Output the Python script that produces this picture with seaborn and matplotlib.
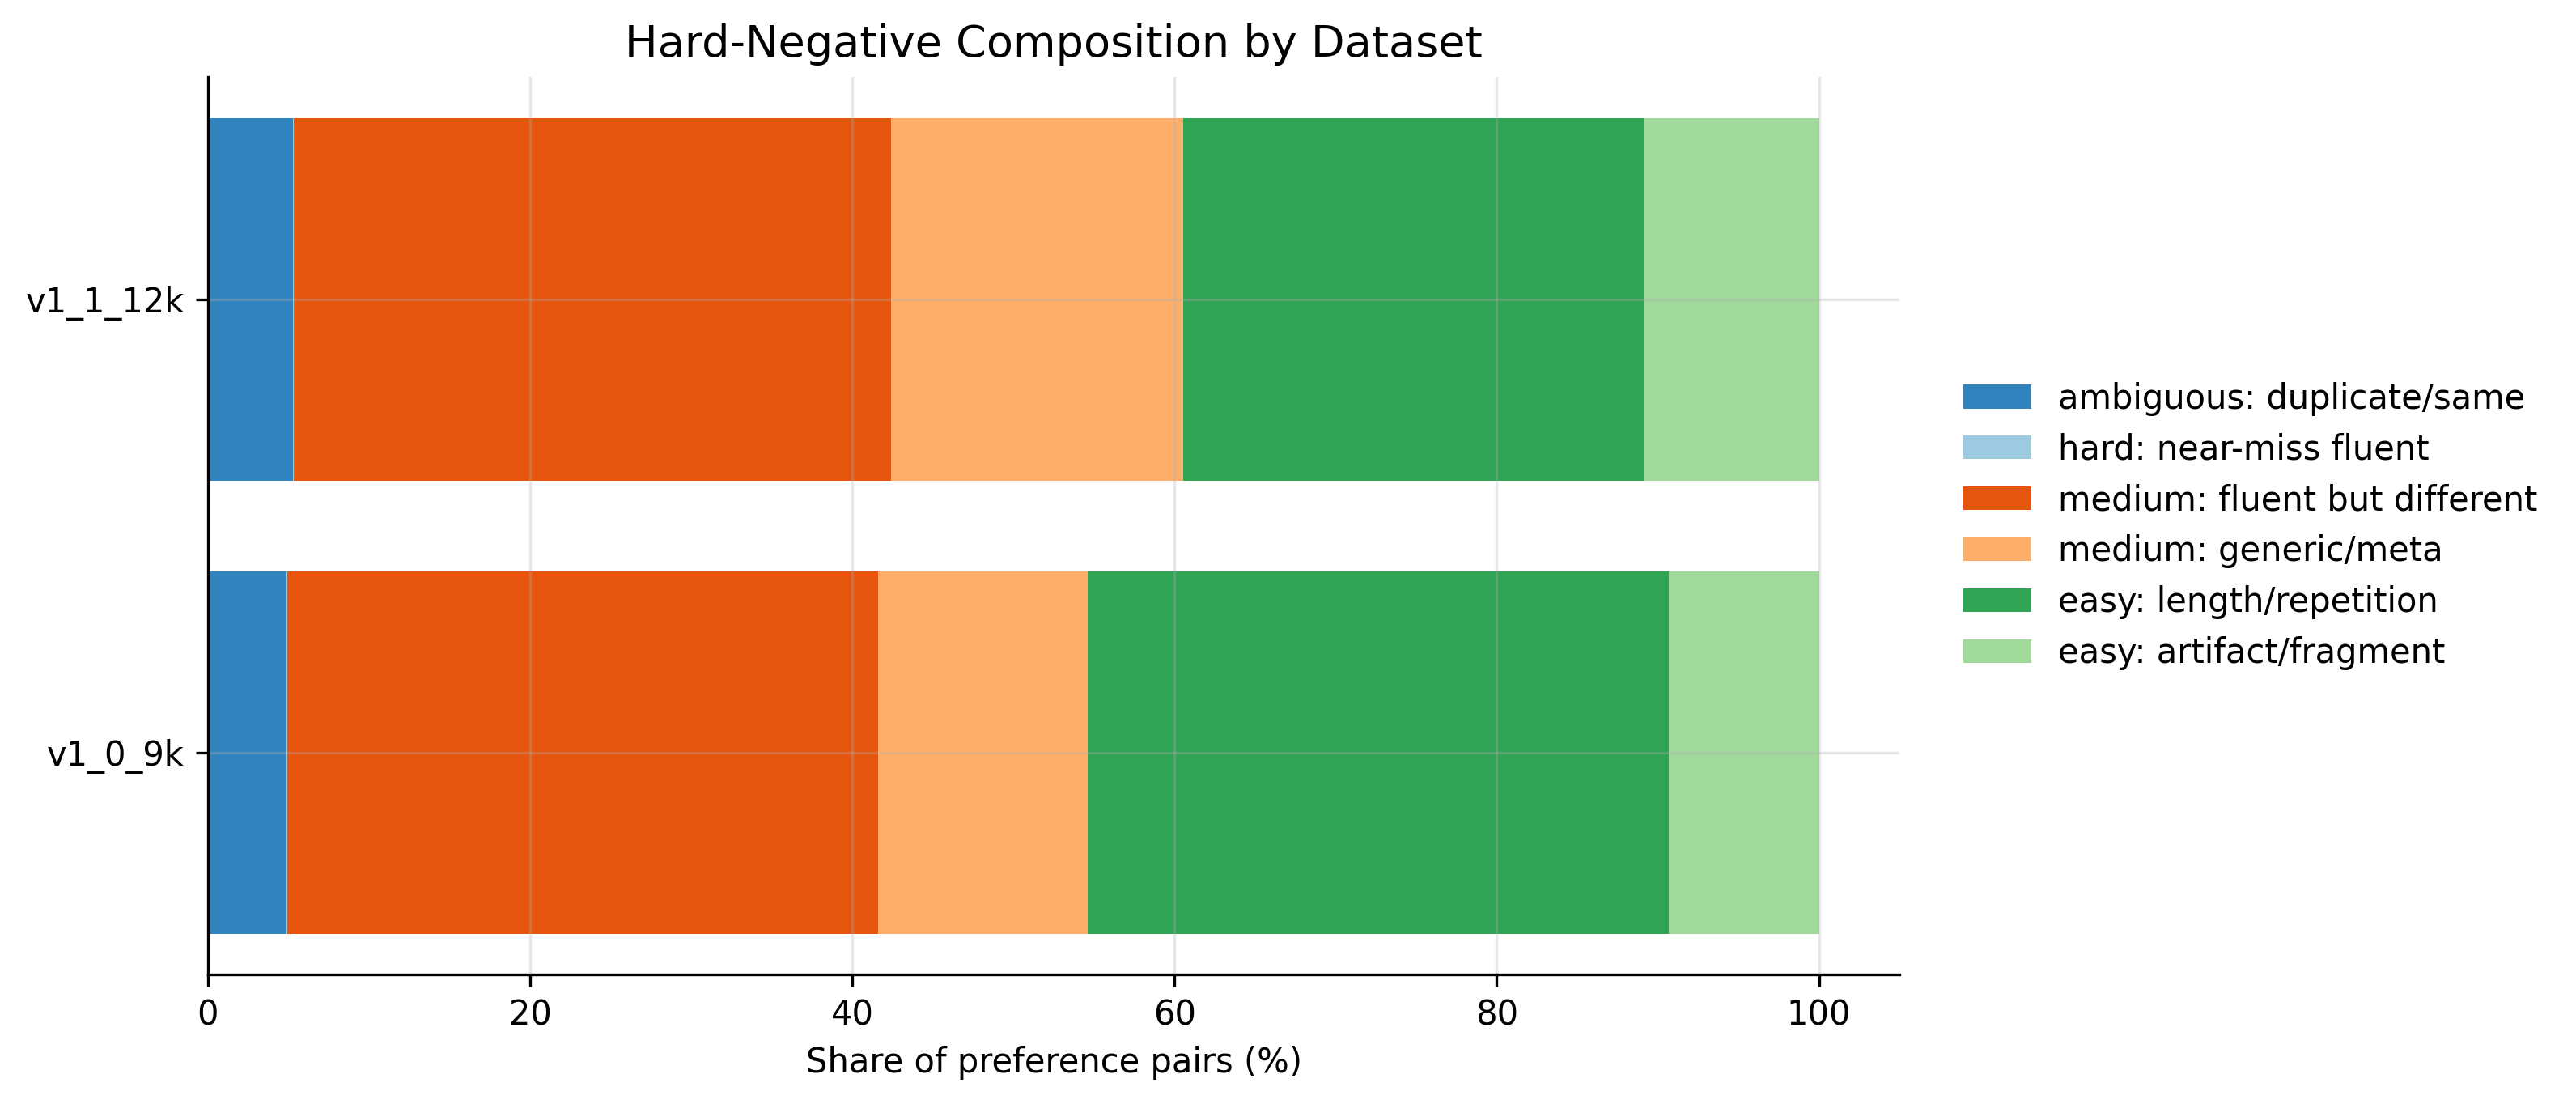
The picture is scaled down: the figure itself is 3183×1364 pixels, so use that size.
import numpy as np
import pandas as pd
import seaborn as sns
import matplotlib.pyplot as plt

# datasets, top to bottom
datasets = ["v1_1_12k", "v1_0_9k"]

categories = [
    "ambiguous: duplicate/same",
    "hard: near-miss fluent",
    "medium: fluent but different",
    "medium: generic/meta",
    "easy: length/repetition",
    "easy: artifact/fragment",
]

# share of preference pairs (%) per category, one list per dataset
share_v1_1_12k = [5.28, 0.05, 37.07, 18.15, 28.60, 10.85]
share_v1_0_9k = [4.87, 0.05, 36.68, 13.00, 36.10, 9.30]

colors = ["#3182bd", "#9ecae1", "#e6550d", "#fdae6b", "#31a354", "#a1d99b"]

df = pd.DataFrame([share_v1_1_12k, share_v1_0_9k], index=datasets, columns=categories)
cum = df.cumsum(axis=1)

fig = plt.figure(figsize=(3183 / 300, 1364 / 300), dpi=300)
ax = fig.add_axes([0.0807, 0.1173, 0.6567, 0.8127])

# stacked bars: draw the running totals from the largest down
for k in reversed(range(len(categories))):
    sns.barplot(x=cum[categories[k]].values, y=datasets, order=datasets, orient="h",
                color=colors[k], saturation=1, width=0.8, label=categories[k], ax=ax)

ax.set_xlim(0, 105)
ax.set_ylim(1.49, -0.49)
ax.grid(True, alpha=0.3)
ax.spines["top"].set_visible(False)
ax.spines["right"].set_visible(False)
ax.set_title("Hard-Negative Composition by Dataset", fontsize=13)
ax.set_xlabel("Share of preference pairs (%)")
ax.set_ylabel("")

handles, labels = ax.get_legend_handles_labels()
ax.legend(handles[::-1], labels[::-1], loc="center left", bbox_to_anchor=(1.02, 0.5), frameon=False)

fig.savefig("out.png", dpi=300)
